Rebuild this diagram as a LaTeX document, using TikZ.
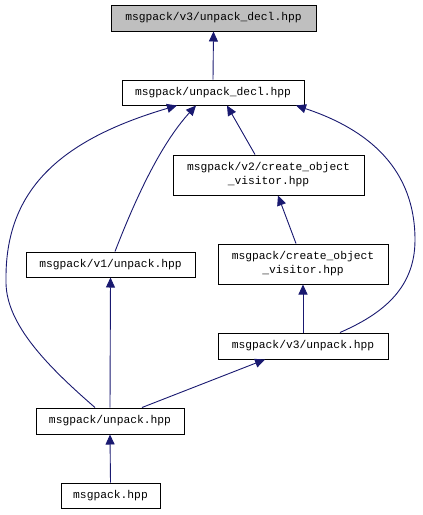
\documentclass[tikz,border=0pt]{standalone}
\usepackage{fontspec}
\newfontfamily\monofont{Liberation Mono}
\usepackage{tikz}
\usetikzlibrary{arrows.meta, positioning}
\definecolor{edgeblue}{HTML}{191970}
\definecolor{rootgray}{HTML}{BFBFBF}

\tikzset{
  filenode/.style={draw=black, line width=1pt, inner sep=0pt,
    align=center, font=\monofont\fontsize{11.3}{14}\selectfont,
    minimum height=25pt},
  incl/.style={draw=edgeblue, line width=0.9pt,
    -{Triangle[length=10pt,width=9pt]}}
}

\begin{document}
\begin{tikzpicture}[x=1pt, y=-1pt]
    \useasboundingbox (0,0) rectangle (423,515);

    % header files
    \node[filenode, fill=rootgray, minimum width=205pt, minimum height=26pt]
      (root) at (213.5,18) {msgpack/v3/unpack\_decl.hpp};
    \node[filenode, minimum width=182pt] (decl) at (213,92.5)
      {msgpack/unpack\_decl.hpp};
    \node[filenode, minimum width=191pt, minimum height=40pt] (vtwocov)
      at (268.5,175) {msgpack/v2/create\_object\\\_visitor.hpp};
    \node[filenode, minimum width=169pt] (voneunpack) at (110.5,264.5)
      {msgpack/v1/unpack.hpp};
    \node[filenode, minimum width=170pt, minimum height=40pt] (cov)
      at (303,264) {msgpack/create\_object\\\_visitor.hpp};
    \node[filenode, minimum width=170pt, minimum height=26pt] (vthreeunpack)
      at (303,346) {msgpack/v3/unpack.hpp};
    \node[filenode, minimum width=148pt, minimum height=26pt] (unpack)
      at (110,421) {msgpack/unpack.hpp};
    \node[filenode, minimum width=99pt] (msgpack) at (110.5,495.5)
      {msgpack.hpp};

    % include edges
    \draw[incl] (decl.north) -- (root.south);
    \draw[incl] ([xshift=-13.5pt]vtwocov.north) -- ([xshift=14pt]decl.south);
    \draw[incl] ([xshift=-7pt]cov.north) -- ([xshift=9.5pt]vtwocov.south);
    \draw[incl] (vthreeunpack.north) -- (cov.south);
    \draw[incl] (unpack.north) -- (voneunpack.south);
    \draw[incl] (msgpack.north) -- (unpack.south);
    \draw[incl] ([xshift=32pt]unpack.north) -- ([xshift=-38pt]vthreeunpack.south);
    \draw[incl] ([xshift=4.5pt]voneunpack.north)
      .. controls (135,200) and (160,145) .. ([xshift=-17pt]decl.south);
    \coordinate (leftbend) at (6,280);
    \draw[incl] ([xshift=-15pt]unpack.north)
      .. controls (40,360) and (5,320) .. (leftbend)
      .. controls (5,190) and (60,140) .. ([xshift=-36pt]decl.south);
    \coordinate (rightbend) at (415,240);
    \draw[incl] ([xshift=37pt]vthreeunpack.north)
      .. controls (380,315) and (415,290) .. (rightbend)
      .. controls (415,170) and (370,130) .. ([xshift=83pt]decl.south);
  \end{tikzpicture}
\end{document}
